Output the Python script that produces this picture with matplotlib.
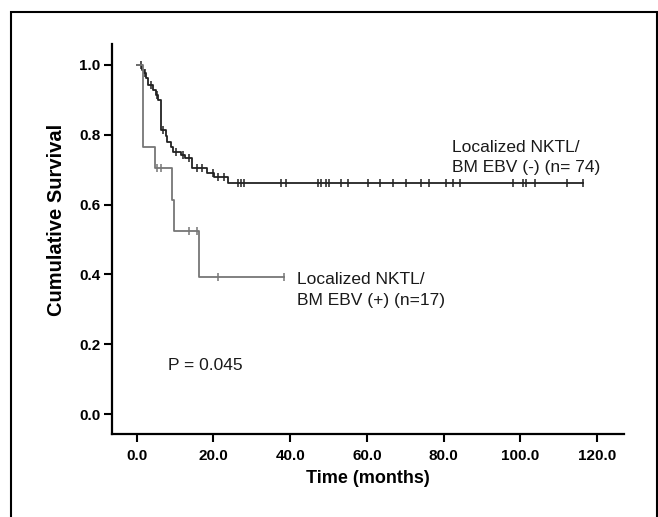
import numpy as np
import matplotlib.pyplot as plt
from matplotlib.patches import Rectangle

plt.rcParams['font.family'] = ['Liberation Sans', 'DejaVu Sans']

# EBV (-) group, n=74: step times and survival after each step
neg_time = [0, 1.3, 1.9, 2.5, 3.0, 4.1, 5.0, 5.6, 6.3, 7.6, 8.0, 8.9, 9.5,
            11.5, 12.6, 14.5, 18.4, 20.2, 23.7]
neg_surv = [1.0, 0.986, 0.976, 0.962, 0.943, 0.928, 0.914, 0.900, 0.814,
            0.795, 0.780, 0.766, 0.752, 0.742, 0.733, 0.704, 0.690, 0.679, 0.661]
neg_censor = [1.0, 2.2, 3.6, 5.3, 6.9, 10.2, 12.0, 13.6, 15.8, 17.0, 19.8,
              21.2, 22.8, 26.3, 27.2, 28.0, 37.6, 38.9, 47.2, 48.0, 49.3, 50.2,
              53.3, 55.0, 60.2, 63.3, 66.7, 70.2, 74.2, 76.3, 80.7, 82.4, 84.2,
              98.1, 100.7, 101.6, 103.8, 112.1, 116.3]
neg_end = 116.3

# EBV (+) group, n=17
pos_time = [0, 1.6, 4.8, 9.1, 9.7, 16.3]
pos_surv = [1.0, 0.765, 0.706, 0.613, 0.524, 0.393]
pos_censor = [5.4, 6.3, 13.7, 15.8, 21.3, 38.5]
pos_end = 38.5

x_ticks = [0, 20, 40, 60, 80, 100, 120]
y_ticks = [0.0, 0.2, 0.4, 0.6, 0.8, 1.0]


def km_line(ax, t, s, cens, end, color):
    t = np.array(t + [end])
    s = np.array(s + [s[-1]])
    ax.step(t, s, where='post', color=color, lw=1.3)
    idx = np.searchsorted(t, cens, side='right') - 1
    ax.plot(cens, s[idx], ls='none', marker='|', ms=6, mew=1.1, color=color)


fig = plt.figure(figsize=(6.58, 5.17), dpi=100)
ax = fig.add_axes([0.170, 0.1605, 0.778, 0.7545])

km_line(ax, neg_time, neg_surv, neg_censor, neg_end, '#222222')
km_line(ax, pos_time, pos_surv, pos_censor, pos_end, '#767676')

ax.set_xlim(-6.5, 127)
ax.set_ylim(-0.057, 1.06)
ax.set_xticks(x_ticks)
ax.set_xticklabels([f'{v:.1f}' for v in x_ticks])
ax.set_yticks(y_ticks)
ax.set_yticklabels([f'{v:.1f}' for v in y_ticks])
for lab in ax.get_xticklabels() + ax.get_yticklabels():
    lab.set_fontweight('bold')
ax.tick_params(direction='out', length=6, width=1.5, labelsize=11)
ax.tick_params(axis='x', pad=5)
ax.tick_params(axis='y', pad=2)
for side in ['top', 'right']:
    ax.spines[side].set_visible(False)
for side in ['left', 'bottom']:
    ax.spines[side].set_linewidth(1.6)

ax.set_xlabel('Time (months)', fontsize=13, fontweight='bold', labelpad=5)
ax.set_ylabel('Cumulative Survival', fontsize=14.5, fontweight='bold')
ax.yaxis.set_label_coords(-0.09, 0.55)

ax.text(82.3, 0.735, 'Localized NKTL/\nBM EBV (-) (n= 74)', fontsize=12.5,
        va='center', ha='left', linespacing=1.45, color='#1a1a1a')
ax.text(41.8, 0.355, 'Localized NKTL/\nBM EBV (+) (n=17)', fontsize=12.5,
        va='center', ha='left', linespacing=1.45, color='#1a1a1a')
ax.text(8.2, 0.14, 'P = 0.045', fontsize=12.5, va='center', ha='left',
        color='#1a1a1a')

fig.patches.append(Rectangle((11 / 658, -0.1), 646 / 658, 1.1 - 12 / 517,
                             transform=fig.transFigure, fill=False,
                             edgecolor='black', lw=1.5))

fig.savefig('out.png', dpi=100)
